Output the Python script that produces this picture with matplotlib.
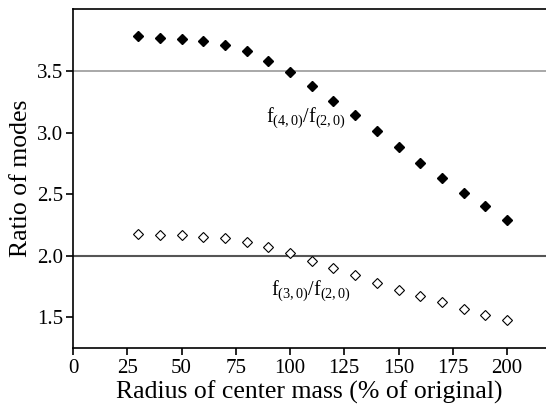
import matplotlib
matplotlib.use("Agg")
import matplotlib.pyplot as plt

# data
radius = [30, 40, 50, 60, 70, 80, 90, 100, 110, 120, 130, 140, 150, 160, 170, 180, 190, 200]
ratio_40_20 = [3.78, 3.77, 3.76, 3.74, 3.71, 3.66, 3.58, 3.49, 3.38, 3.26,
               3.14, 3.01, 2.88, 2.75, 2.63, 2.51, 2.40, 2.29]
ratio_30_20 = [2.18, 2.17, 2.165, 2.15, 2.14, 2.11, 2.07, 2.02, 1.96, 1.90,
               1.84, 1.78, 1.72, 1.67, 1.62, 1.57, 1.52, 1.48]
x_ticks = [0, 25, 50, 75, 100, 125, 150, 175, 200]
y_ticks = [1.5, 2.0, 2.5, 3.0, 3.5]

plt.rcParams['font.family'] = ['Liberation Serif', 'DejaVu Serif']
plt.rcParams['mathtext.fontset'] = 'custom'
plt.rcParams['mathtext.rm'] = 'Liberation Serif'
plt.rcParams['mathtext.it'] = 'Liberation Serif'

fig = plt.figure(figsize=(5.46, 4.09), dpi=100)
ax = fig.add_axes([0.134, 0.149, 0.866, 0.828])

ax.axhline(3.5, color='#999999', lw=1.2, zorder=1)
ax.axhline(2.0, color='#555555', lw=1.5, zorder=1)

ax.plot(radius, ratio_40_20, 'D', color='black', markersize=5.5, zorder=3)
ax.plot(radius, ratio_30_20, 'D', markerfacecolor='white', markeredgecolor='black',
        markeredgewidth=0.8, markersize=5.5, zorder=3)

ax.text(89, 3.085, r'$\mathregular{f_{(4,0)}/f_{(2,0)}}$', fontsize=14.5, ha='left', va='baseline')
ax.text(91, 1.68, r'$\mathregular{f_{(3,0)}/f_{(2,0)}}$', fontsize=14.5, ha='left', va='baseline')

ax.set_xlim(0, 218)
ax.set_ylim(1.25, 4.0)
ax.set_xticks(x_ticks)
ax.set_yticks(y_ticks)
ax.set_yticklabels(['1.5', '2.0', '2.5', '3.0', '3.5'])

ax.spines['right'].set_visible(False)
for s in ['left', 'bottom', 'top']:
    ax.spines[s].set_linewidth(1.2)

ax.tick_params(direction='out', length=5, width=1.2, labelsize=15)
ax.tick_params(axis='x', pad=3)
ax.tick_params(axis='y', pad=2)
ax.set_xlabel('Radius of center mass (% of original)', fontsize=18.5, labelpad=2)
ax.set_ylabel('Ratio of modes', fontsize=18.5, labelpad=4)

fig.savefig('out.png', dpi=100)
